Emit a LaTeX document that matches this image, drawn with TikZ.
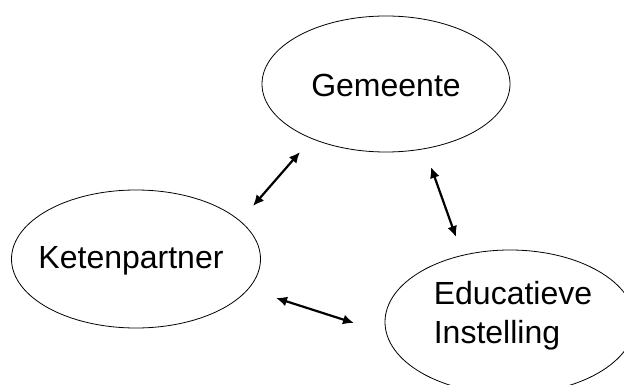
\documentclass[tikz,border=0pt]{standalone}
\usepackage{fontspec}
\setmainfont{Liberation Sans}
\usetikzlibrary{shapes.geometric,arrows.meta}
\begin{document}
\begin{tikzpicture}[x=1pt,y=-1pt,
  bubble/.style={draw=black,ellipse,line width=0.8pt,inner sep=0pt},
  lbl/.style={inner sep=0pt,font=\fontsize{32}{39}\selectfont,align=left},
  link/.style={line width=2.2pt,{Latex[length=11pt,width=10pt]}-{Latex[length=11pt,width=10pt]}}]
\useasboundingbox (0,0) rectangle (624,385);
\node[bubble,minimum width=248pt,minimum height=136pt] (g) at (386,84) {};
\node[lbl] (gt) at (386,85) {Gemeente};
\node[bubble,minimum width=249pt,minimum height=138pt] (k) at (136,259) {};
\node[lbl] (kt) at (131,261) {Ketenpartner};
\node[bubble,minimum width=250pt,minimum height=144pt] (e) at (510,322) {};
\node[lbl] (et) at (513,316) {Educatieve\\Instelling};
\coordinate (a1) at (300,152);
\coordinate (a2) at (253,206);
\coordinate (b1) at (431,167);
\coordinate (b2) at (456,237);
\coordinate (c1) at (276,298);
\coordinate (c2) at (354,323);
\draw[link] (a1) -- (a2);
\draw[link] (b1) -- (b2);
\draw[link] (c1) -- (c2);
\end{tikzpicture}
\end{document}
